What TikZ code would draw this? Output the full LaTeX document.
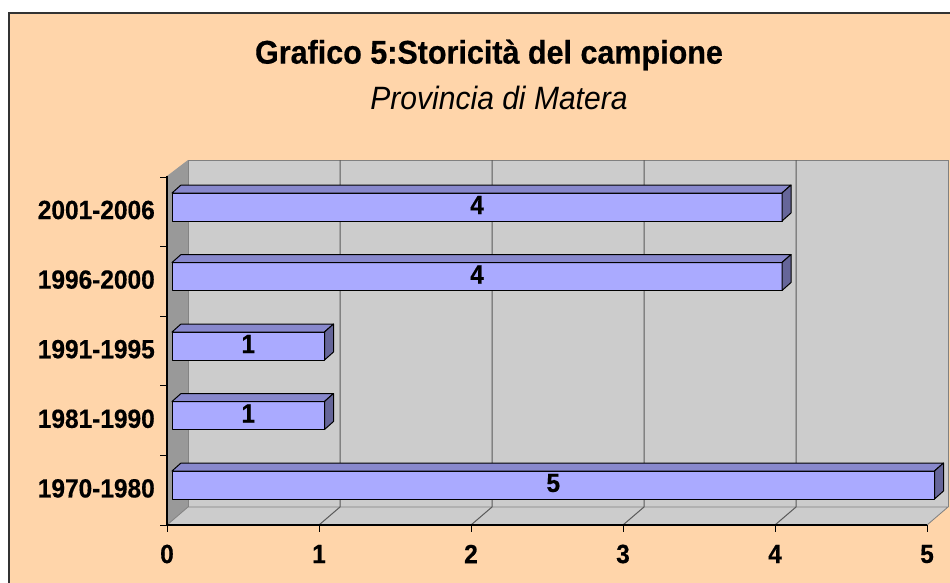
\documentclass[tikz,border=0pt]{standalone}
\usepackage{fontspec}
\setmainfont{Liberation Sans}[FakeStretch=0.93, BoldFeatures={FakeBold=0.5}]
\definecolor{peach}{HTML}{FFD5AA}
\definecolor{wallgray}{HTML}{CCCCCC}
\definecolor{sidegray}{HTML}{999999}
\definecolor{barfront}{HTML}{AAAAFF}
\definecolor{bartop}{HTML}{8888CC}
\definecolor{barside}{HTML}{666699}
\begin{document}
\begin{tikzpicture}[x=1pt,y=-1pt,
  lbl/.style={font=\fontsize{26.3}{30}\selectfont\bfseries, inner sep=0pt},
  grid/.style={draw=black!65, line width=1pt},
  barline/.style={draw=black, line width=1pt, line join=round}]
\useasboundingbox (0,0) rectangle (950,583);
\fill[white] (0,0) rectangle (950,583);
% chart area
\fill[peach] (8,12) rectangle (950,583);
\draw[black!80, line width=2pt] (9,583) -- (9,13) -- (950,13);
% title
\node[inner sep=0pt, font=\fontsize{32.8}{36}\selectfont\bfseries] (title) at (489,55) {Grafico 5:Storicità del campione};
\node[inner sep=0pt, font=\fontsize{32.3}{36}\selectfont\itshape] (subtitle) at (499,98) {Provincia di Matera};
% walls
\fill[wallgray] (188,160) rectangle (948,507);
\draw[black!50, line width=0.8pt] (188,507) -- (188,160) -- (948,160) -- (948,507);
\fill[sidegray] (167,176) -- (188,160) -- (188,507) -- (167,525) -- cycle;
\fill[wallgray] (167,525) -- (188,507) -- (948,507) -- (927,525) -- cycle;
\draw[black!50, line width=0.8pt] (167,525) -- (188,507) -- (948,507) -- (927,525);
% gridlines
\foreach \k in {1,...,4} {
  \draw[grid] ({188+152*\k},160) -- ({188+152*\k},507) -- ({167+152*\k},525);
}
% axes
\draw[black, line width=1.2pt] (167,176) -- (167,525) -- (927,525);
\foreach \k in {0,...,5} {
  \draw[black, line width=1pt] (160,{177+69.6*\k}) -- (167,{177+69.6*\k});
  \draw[black, line width=1pt] ({167+152*\k},525) -- ({167+152*\k},532);
  \node[lbl] (x\k) at ({167+152*\k},554) {\k};
}
% category labels
\foreach \c [count=\i from 0] in {2001-2006,1996-2000,1991-1995,1981-1990,1970-1980} {
  \node[lbl, anchor=east] (cat\i) at (155,{210+69.6*\i}) {\c};
}
% bars
\foreach \v/\t [count=\i] in {4/193,4/262.5,1/332,1/401.5,5/471} {
  \pgfmathsetmacro\xr{172+152.5*\v}
  \filldraw[barline, fill=barfront] (172,\t) rectangle (\xr,{\t+28});
  \filldraw[barline, fill=bartop] (172,\t) -- (181,{\t-8}) -- ({\xr+9},{\t-8}) -- (\xr,\t) -- cycle;
  \filldraw[barline, fill=barside] (\xr,\t) -- ({\xr+9},{\t-8}) -- ({\xr+9},{\t+20}) -- (\xr,{\t+28}) -- cycle;
  \node[lbl] (val\i) at ({(172+\xr)/2},{\t+12}) {\v};
}
\end{tikzpicture}
\end{document}
